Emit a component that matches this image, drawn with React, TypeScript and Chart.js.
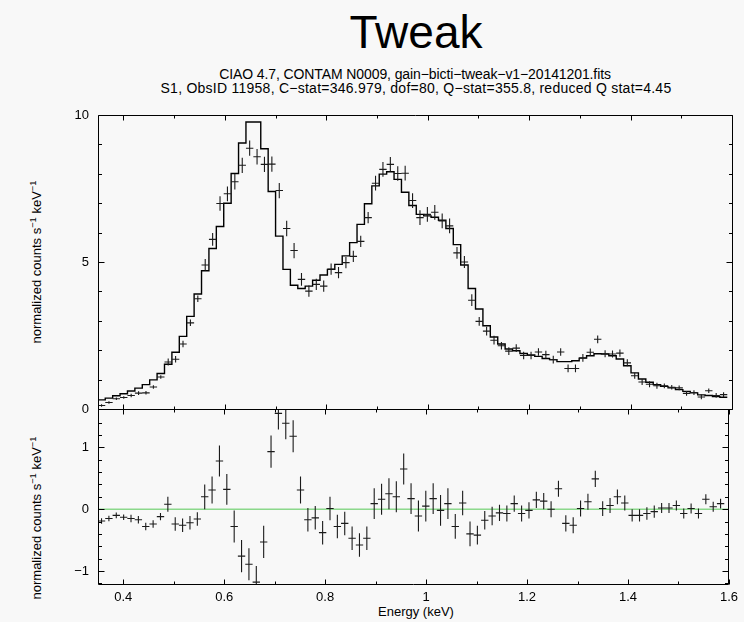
import React, { useEffect, useRef } from 'react';
import { Chart, registerables } from 'chart.js';

Chart.register(...registerables);

const FONT = "'Liberation Sans', Arial, Helvetica, sans-serif";

// Bin centres (keV)
const energy = [
  0.3570, 0.3716, 0.3862, 0.4008, 0.4154, 0.4300, 0.4446, 0.4592, 0.4738, 0.4884,
  0.5030, 0.5176, 0.5322, 0.5468, 0.5614, 0.5760, 0.5906, 0.6052, 0.6198, 0.6344,
  0.6490, 0.6636, 0.6782, 0.6928, 0.7074, 0.7220, 0.7366, 0.7512, 0.7658, 0.7804,
  0.7950, 0.8096, 0.8242, 0.8388, 0.8534, 0.8680, 0.8826, 0.8972, 0.9118, 0.9264,
  0.9410, 0.9556, 0.9702, 0.9848, 0.9994, 1.0140, 1.0286, 1.0432, 1.0578, 1.0724,
  1.0870, 1.1016, 1.1162, 1.1308, 1.1454, 1.1600, 1.1746, 1.1892, 1.2038, 1.2184,
  1.2330, 1.2476, 1.2622, 1.2768, 1.2914, 1.3060, 1.3206, 1.3352, 1.3498, 1.3644,
  1.3790, 1.3936, 1.4082, 1.4228, 1.4374, 1.4520, 1.4666, 1.4812, 1.4958, 1.5104,
  1.5250, 1.5396, 1.5542, 1.5688, 1.5834,
];
const binHalfWidth = 0.0073;

// Model (step histogram)
const model = [
  0.31, 0.37, 0.45, 0.52, 0.61, 0.71, 0.83, 0.99, 1.21, 1.52,
  1.93, 2.47, 3.15, 3.91, 4.70, 5.46, 6.21, 7.00, 8.01, 9.05,
  9.76, 9.76, 8.85, 7.40, 5.88, 4.75, 4.21, 4.10, 4.18, 4.38,
  4.56, 4.75, 4.92, 5.21, 5.66, 6.28, 6.98, 7.59, 7.99, 8.07,
  7.81, 7.37, 6.92, 6.62, 6.57, 6.52, 6.42, 6.14, 5.59, 4.90,
  4.10, 3.40, 2.83, 2.45, 2.21, 2.04, 1.98, 1.89, 1.84, 1.79,
  1.72, 1.68, 1.61, 1.61, 1.64, 1.73, 1.81, 1.88, 1.87, 1.81,
  1.70, 1.47, 1.23, 1.02, 0.91, 0.83, 0.77, 0.72, 0.66, 0.60,
  0.55, 0.48, 0.46, 0.42, 0.40,
];

// Observed data
const counts = [
  0.12, 0.22, 0.35, 0.39, 0.46, 0.54, 0.55, 0.75, 1.09, 1.60,
  1.69, 2.21, 2.93, 3.75, 4.90, 5.77, 6.99, 7.32, 7.73, 8.29,
  8.87, 8.58, 8.32, 8.33, 7.43, 6.14, 5.39, 4.41, 4.01, 4.24,
  4.18, 4.76, 4.64, 4.98, 5.19, 5.70, 6.51, 7.68, 8.15, 8.32,
  8.01, 8.02, 7.09, 6.51, 6.62, 6.69, 6.40, 6.23, 5.31, 5.00,
  3.70, 2.98, 2.65, 2.34, 2.15, 1.97, 2.07, 1.82, 1.82, 1.94,
  1.85, 1.68, 1.94, 1.38, 1.38, 1.74, 1.93, 2.37, 1.88, 1.87,
  1.90, 1.57, 1.13, 0.92, 0.84, 0.79, 0.79, 0.74, 0.72, 0.53,
  0.56, 0.41, 0.62, 0.46, 0.49,
];

// Residuals (data - model)
const residuals = [
  -0.19, -0.15, -0.10, -0.13, -0.15, -0.17, -0.28, -0.24, -0.12, 0.08,
  -0.24, -0.26, -0.22, -0.16, 0.20, 0.31, 0.78, 0.32, -0.28, -0.76,
  -0.89, -1.18, -0.53, 0.93, 1.55, 1.39, 1.18, 0.31, -0.17, -0.14,
  -0.38, 0.01, -0.28, -0.23, -0.47, -0.58, -0.47, 0.09, 0.16, 0.25,
  0.20, 0.65, 0.17, -0.11, 0.05, 0.17, -0.02, 0.09, -0.28, 0.10,
  -0.40, -0.42, -0.18, -0.11, -0.06, -0.07, 0.09, -0.07, -0.02, 0.15,
  0.13, 0.00, 0.33, -0.23, -0.26, 0.01, 0.12, 0.49, 0.01, 0.06,
  0.20, 0.10, -0.10, -0.10, -0.07, -0.04, 0.02, 0.02, 0.06, -0.07,
  0.01, -0.07, 0.16, 0.04, 0.09,
];

// 1-sigma errors
const errors = [
  0.045, 0.045, 0.045, 0.045, 0.06, 0.06, 0.06, 0.06, 0.06, 0.12,
  0.11, 0.11, 0.11, 0.11, 0.20, 0.22, 0.25, 0.25, 0.26, 0.26,
  0.26, 0.26, 0.26, 0.26, 0.26, 0.26, 0.26, 0.22, 0.19, 0.19,
  0.19, 0.19, 0.19, 0.19, 0.19, 0.19, 0.19, 0.25, 0.25, 0.25,
  0.25, 0.25, 0.25, 0.25, 0.25, 0.25, 0.25, 0.25, 0.20, 0.20,
  0.20, 0.15, 0.15, 0.15, 0.13, 0.13, 0.13, 0.13, 0.13, 0.13,
  0.13, 0.13, 0.13, 0.13, 0.13, 0.13, 0.13, 0.13, 0.12, 0.12,
  0.12, 0.12, 0.10, 0.10, 0.10, 0.10, 0.08, 0.08, 0.08, 0.08,
  0.08, 0.08, 0.08, 0.08, 0.08,
];

const xTickLabels = [0.4, 0.6, 0.8, 1.0, 1.2, 1.4, 1.6];
const xMinorTicks = [0.5, 0.7, 0.9, 1.1, 1.3, 1.5];
const topYLabels = [0, 5, 10];
const topYMinor = [1, 2, 3, 4, 6, 7, 8, 9];
const resYLabels = [-1, 0, 1];
const resYMinor = [-1.2, -0.8, -0.6, -0.4, -0.2, 0.2, 0.4, 0.6, 0.8, 1.2, 1.4];

function crossPoints(vals: number[], errs: number[]) {
  const pts: { x: number; y: number | null }[] = [];
  energy.forEach((e, i) => {
    pts.push({ x: e, y: vals[i] - errs[i] }, { x: e, y: vals[i] + errs[i] }, { x: e, y: null });
    pts.push({ x: e - binHalfWidth, y: vals[i] }, { x: e + binHalfWidth, y: vals[i] }, { x: e + binHalfWidth, y: null });
  });
  return pts;
}

function stepPoints() {
  const pts = energy.map((e, i) => ({ x: e - binHalfWidth, y: model[i] }));
  const n = energy.length - 1;
  pts.push({ x: energy[n] + binHalfWidth, y: model[n] });
  return pts;
}

function framePlugin(yMajor: number[], yMinor: number[]) {
  return {
    id: 'frame',
    afterDatasetsDraw(chart: any) {
      const { ctx, chartArea: a, scales } = chart;
      const x = scales.x, y = scales.y;
      const L = Math.floor(a.left) + 0.5;
      const R = Math.floor(a.right) + 0.5;
      const T = Math.floor(a.top) + 0.5;
      const B = Math.floor(a.bottom) + 0.5;
      ctx.save();
      ctx.strokeStyle = '#000';
      ctx.lineWidth = 1;
      ctx.beginPath();
      ctx.rect(L, T, R - L, B - T);
      const xt = (vals: number[], len: number) => {
        vals.forEach((v) => {
          const px = Math.round(x.getPixelForValue(v)) + 0.5;
          ctx.moveTo(px, T); ctx.lineTo(px, T + len);
          ctx.moveTo(px, B); ctx.lineTo(px, B - len);
        });
      };
      const yt = (vals: number[], len: number) => {
        vals.forEach((v) => {
          const py = Math.round(y.getPixelForValue(v)) + 0.5;
          ctx.moveTo(L, py); ctx.lineTo(L + len, py);
          ctx.moveTo(R, py); ctx.lineTo(R - len, py);
        });
      };
      xt(xTickLabels, 5);
      xt(xMinorTicks, 3);
      yt(yMajor, 6);
      yt(yMinor, 3.5);
      ctx.stroke();
      ctx.restore();
    },
  };
}

export default function App() {
  const topRef = useRef<HTMLCanvasElement>(null);
  const botRef = useRef<HTMLCanvasElement>(null);

  useEffect(() => {
    const font = { family: FONT, size: 13 };
    const top = new Chart(topRef.current as HTMLCanvasElement, {
      type: 'line',
      data: {
        datasets: [
          { data: crossPoints(counts, errors), borderColor: '#1a1a1a', borderWidth: 1.1, pointRadius: 0, spanGaps: false, order: 1 } as any,
          { data: stepPoints(), stepped: true, borderColor: '#000', borderWidth: 1.4, pointRadius: 0, order: 2 } as any,
        ],
      },
      options: {
        responsive: false,
        animation: false,
        events: [],
        layout: { padding: { top: 115, bottom: 213, left: 0, right: 12 } },
        plugins: { legend: { display: false }, tooltip: { enabled: false } },
        scales: {
          x: { type: 'linear', min: 0.35, max: 1.6, display: false },
          y: {
            type: 'linear', min: 0, max: 10,
            grid: { display: false, drawTicks: false },
            border: { display: false },
            ticks: { padding: 9, font, color: '#000' },
            afterFit: (s: any) => { s.width = 98; },
            afterBuildTicks: (s: any) => { s.ticks = topYLabels.map((v) => ({ value: v })); },
          },
        },
      } as any,
      plugins: [framePlugin(topYLabels, topYMinor)],
    });

    const bot = new Chart(botRef.current as HTMLCanvasElement, {
      type: 'line',
      data: {
        datasets: [
          { data: crossPoints(residuals, errors), borderColor: '#1a1a1a', borderWidth: 1.1, pointRadius: 0, spanGaps: false, order: 1 } as any,
          { data: [{ x: 0.35, y: 0 }, { x: 1.6, y: 0 }], borderColor: '#55c855', borderWidth: 1, pointRadius: 0, order: 2 } as any,
        ],
      },
      options: {
        responsive: false,
        animation: false,
        events: [],
        layout: { padding: { top: 409, bottom: 0, left: 0, right: 12 } },
        plugins: { legend: { display: false }, tooltip: { enabled: false } },
        scales: {
          x: {
            type: 'linear', min: 0.35, max: 1.6,
            grid: { display: false, drawTicks: false },
            border: { display: false },
            ticks: { padding: 6, font, color: '#000', maxRotation: 0, callback: (v: any) => String(Math.round(Number(v) * 10) / 10) },
            afterFit: (s: any) => { s.height = 38; },
            afterBuildTicks: (s: any) => { s.ticks = xTickLabels.map((v) => ({ value: v })); },
          },
          y: {
            type: 'linear', min: -1.21, max: 1.62,
            grid: { display: false, drawTicks: false },
            border: { display: false },
            ticks: { padding: 9, font, color: '#000', callback: (v: any) => String(v).replace('-', '\u2212') },
            afterFit: (s: any) => { s.width = 98; },
            afterBuildTicks: (s: any) => { s.ticks = resYLabels.map((v) => ({ value: v })); },
          },
        },
      } as any,
      plugins: [framePlugin(resYLabels, resYMinor)],
    });

    return () => { top.destroy(); bot.destroy(); };
  }, []);

  const abs = (extra: React.CSSProperties): React.CSSProperties => ({
    position: 'absolute', whiteSpace: 'nowrap', color: '#000', ...extra,
  });
  const sup: React.CSSProperties = { fontSize: '0.72em', verticalAlign: '0.45em', lineHeight: 0 };
  const yTitle = (cy: number) => (
    <div style={abs({ left: 36, top: cy, fontSize: 13, lineHeight: '13px', transform: 'translate(-50%, -50%) rotate(-90deg)' })}>
      normalized counts s<span style={sup}>−1</span> keV<span style={sup}>−1</span>
    </div>
  );

  return (
    <div style={{ position: 'fixed', left: 0, top: 0, width: 744, height: 622, background: '#f8f8f8', fontFamily: FONT, overflow: 'hidden' }}>
      <div style={abs({ left: 0, width: 832, top: 9, fontSize: 46, lineHeight: '46px', textAlign: 'center' })}>Tweak</div>
      <div style={abs({ left: 0, width: 830, top: 66.5, fontSize: 14, lineHeight: '14px', letterSpacing: '-0.1px', textAlign: 'center' })}>
        CIAO 4.7, CONTAM N0009, gain−bicti−tweak−v1−20141201.fits
      </div>
      <div style={abs({ left: 0, width: 832, top: 81, fontSize: 14, lineHeight: '14px', letterSpacing: '0.25px', textAlign: 'center' })}>
        S1, ObsID 11958, C−stat=346.979, dof=80, Q−stat=355.8, reduced Q stat=4.45
      </div>
      {yTitle(262)}
      {yTitle(518)}
      <div style={abs({ left: 0, width: 832, top: 605, fontSize: 13, lineHeight: '13px', textAlign: 'center' })}>Energy (keV)</div>
      <canvas ref={topRef} width={744} height={622} style={{ position: 'absolute', left: 0, top: 0 }} />
      <canvas ref={botRef} width={744} height={622} style={{ position: 'absolute', left: 0, top: 0 }} />
    </div>
  );
}
